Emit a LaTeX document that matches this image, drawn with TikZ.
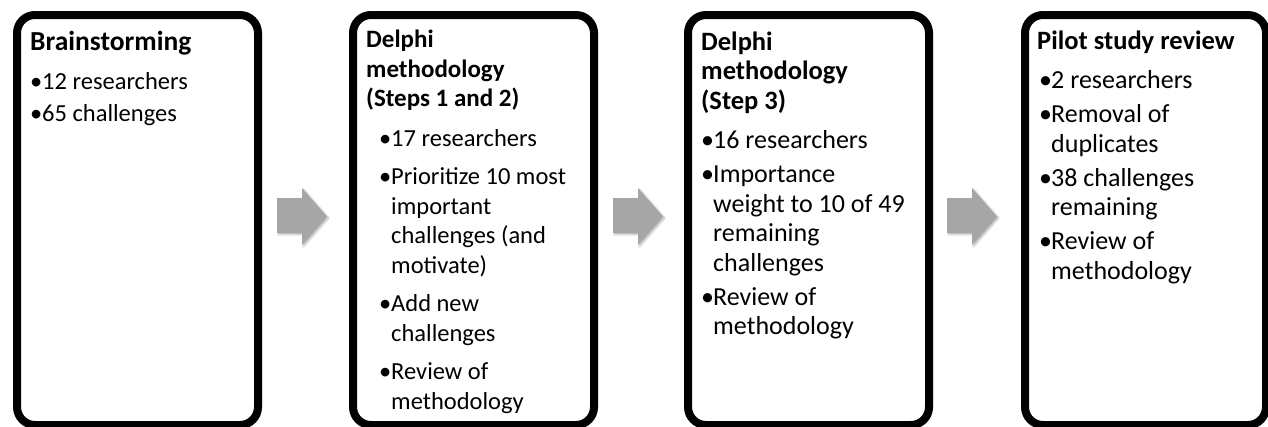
\documentclass[tikz,border=0pt]{standalone}
\usepackage{fontspec}
\setmainfont{Carlito}
\usetikzlibrary{shadows.blur}

\newlength\bulw
\setlength\bulw{12pt}
% heading of a stage, then the bullet points
\newcommand\hd[2][26.5]{{\bfseries\fontsize{#1}{29.5}\selectfont #2\par}\vspace{\dimexpr10pt-\parskip\relax}}
\newcommand\itm[1]{\hangindent=\bulw\hangafter=1\noindent\makebox[\bulw][l]{•}#1\par}

\tikzset{
  stage/.style={draw=black, line width=8pt, rounded corners=18pt, fill=white,
    minimum width=241pt, minimum height=410pt, anchor=north west,
    blur shadow={shadow xshift=2pt, shadow yshift=-2pt, shadow opacity=30, shadow blur radius=3pt}},
  flowarrow/.style={fill=black!35, blur shadow={shadow xshift=1.5pt, shadow yshift=-1.5pt, shadow opacity=30, shadow blur radius=2pt}},
  txt/.style={anchor=base west, inner sep=0pt, font=\fontsize{#1}{29.5}\selectfont},
  txt/.default=26,
}

\begin{document}
\begin{tikzpicture}[x=1pt,y=-1pt]
    \useasboundingbox (0,0) rectangle (1268,426);

    \node[stage] (brain) at (13,11) {};
    \node[stage] (delphiA) at (349,11) {};
    \node[stage] (delphiB) at (684,11) {};
    \node[stage] (pilot) at (1021,11) {};

    % block arrows between the stages
    \foreach \x in {277,613,947}
        \fill[flowarrow] (\x,198) -- (\x+25,198) -- (\x+25,188) -- (\x+50,216.5)
            -- (\x+25,245) -- (\x+25,233) -- (\x,233) -- cycle;

    \node[txt=24.5] (brainT) at (30,50) {\parbox[t]{220pt}{\setlength\parskip{2pt}%
        \hd[27.5]{Brainstorming}
        \itm{12 researchers}
        \itm{65 challenges}}};

    \node[txt=24.5] (delphiAT) at (366,47.5) {\parbox[t]{220pt}{\setlength\parskip{9pt}%
        \hd[25]{Delphi\\methodology\\(Steps 1 and 2)}
        \setlength\leftskip{13pt}%
        \itm{17 researchers}
        \itm{Prioritize 10 most\\important\\challenges (and\\motivate)}
        \itm{Add new\\challenges}
        \itm{Review of\\methodology}}};

    \node[txt] (delphiBT) at (701,50) {\parbox[t]{220pt}{\setlength\parskip{4.5pt}%
        \hd{Delphi\\methodology\\(Step 3)}
        \itm{16 researchers}
        \itm{Importance\\weight to 10 of 49\\remaining\\challenges}
        \itm{Review of\\methodology}}};

    \node[txt] (pilotT) at (1037,49) {\parbox[t]{220pt}{\setlength\parskip{4.5pt}%
        \hd{Pilot study review}
        \setlength\leftskip{2pt}%
        \itm{2 researchers}
        \itm{Removal of\\duplicates}
        \itm{38 challenges\\remaining}
        \itm{Review of\\methodology}}};
\end{tikzpicture}
\end{document}
